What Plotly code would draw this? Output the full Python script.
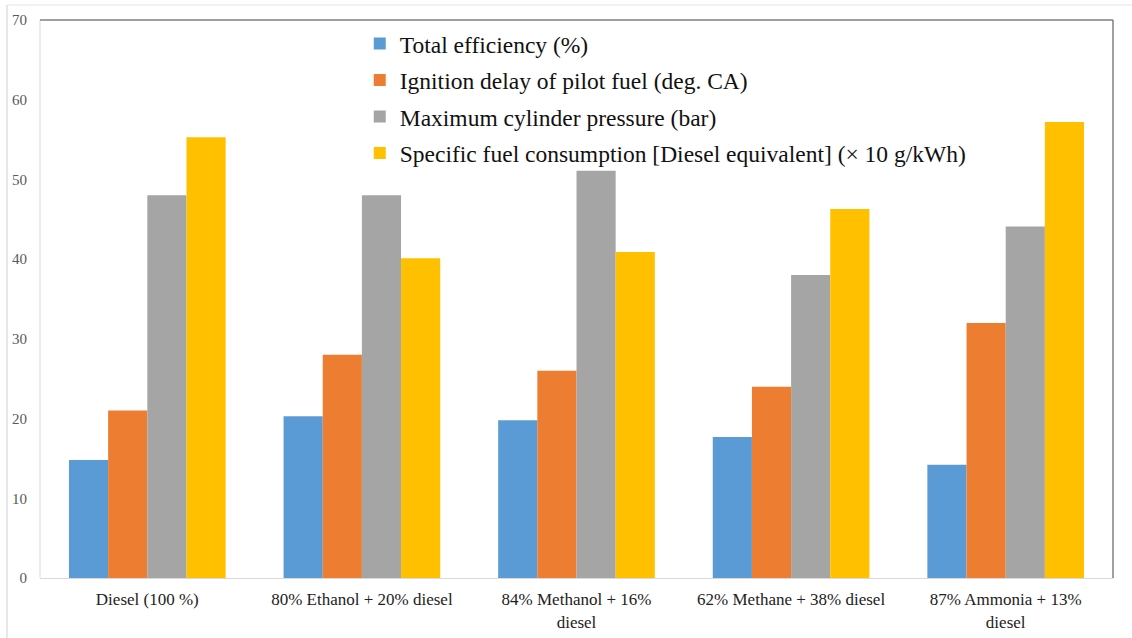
import plotly.graph_objects as go

# Engine operating cases (x-axis categories)
categories = [
    "Diesel (100 %)",
    "80% Ethanol + 20% diesel",
    "84% Methanol + 16%<br>diesel",
    "62% Methane + 38% diesel",
    "87% Ammonia + 13%<br>diesel",
]

# Series values per case
total_efficiency = [14.8, 20.3, 19.8, 17.7, 14.2]
ignition_delay = [21.0, 28.0, 26.0, 24.0, 32.0]
max_cyl_pressure = [48.0, 48.0, 51.1, 38.0, 44.1]
sfc_diesel_eq = [55.3, 40.1, 40.9, 46.3, 57.2]

series_names = [
    "Total efficiency (%)",
    "Ignition delay of pilot fuel (deg. CA)",
    "Maximum cylinder pressure (bar)",
    "Specific fuel consumption [Diesel equivalent] (× 10 g/kWh)",
]
series_values = [total_efficiency, ignition_delay, max_cyl_pressure, sfc_diesel_eq]
series_colors = ["#5B9BD5", "#ED7D31", "#A5A5A5", "#FFC000"]

y_ticks = [0, 10, 20, 30, 40, 50, 60, 70]

fig = go.Figure()
for i, (name, vals, col) in enumerate(zip(series_names, series_values, series_colors)):
    fig.add_trace(go.Bar(
        x=categories, y=vals, name=name,
        marker=dict(color=col, line=dict(width=0)),
        legendgroup=f"g{i}",
    ))

serif = "Liberation Serif"

fig.update_layout(
    width=1132, height=638,
    margin=dict(l=40, r=19, t=20, b=60),
    paper_bgcolor="white", plot_bgcolor="white",
    barmode="group", bargap=0.27, bargroupgap=0,
    font=dict(family=serif, color="#222222"),
    showlegend=True,
    legend=dict(
        x=0.298, y=0.997, xanchor="left", yanchor="top",
        bgcolor="rgba(0,0,0,0)",
        font=dict(family=serif, size=23.5, color="#111111"),
        traceorder="grouped", tracegroupgap=3,
        itemclick=False,
    ),
    xaxis=dict(
        showgrid=False, zeroline=False,
        showline=True, linecolor="#D9D9D9", linewidth=1,
        ticks="", ticklabelstandoff=6, automargin=False,
        tickfont=dict(family=serif, size=17, color="#222222"),
        fixedrange=True,
    ),
    yaxis=dict(
        range=[0, 70], tickvals=y_ticks, automargin=False,
        showgrid=False, zeroline=False, showline=False,
        ticks="", ticklabelstandoff=12,
        tickfont=dict(family=serif, size=15, color="#595959"),
        fixedrange=True,
    ),
)

# Plot-area frame: light left edge, darker top and right edges
fig.add_shape(type="line", xref="paper", yref="paper", x0=0, x1=0, y0=0, y1=1,
              line=dict(color="#D9D9D9", width=1))
fig.add_shape(type="line", xref="paper", yref="paper", x0=0, x1=1, y0=1, y1=1,
              line=dict(color="#7F7F7F", width=1.5))
fig.add_shape(type="line", xref="paper", yref="paper", x0=1, x1=1, y0=0, y1=1,
              line=dict(color="#7F7F7F", width=1.5))

# Outer page frame lines
fig.add_shape(type="line", xref="paper", yref="paper",
              x0=-33 / 1073, x1=-33 / 1073, y0=-60 / 558, y1=1 + 15 / 558,
              line=dict(color="#D0D0D0", width=1))
fig.add_shape(type="line", xref="paper", yref="paper",
              x0=-33 / 1073, x1=1 + 19 / 1073, y0=1 + 15 / 558, y1=1 + 15 / 558,
              line=dict(color="#E3E3E3", width=1))

fig.write_html("out.html")
